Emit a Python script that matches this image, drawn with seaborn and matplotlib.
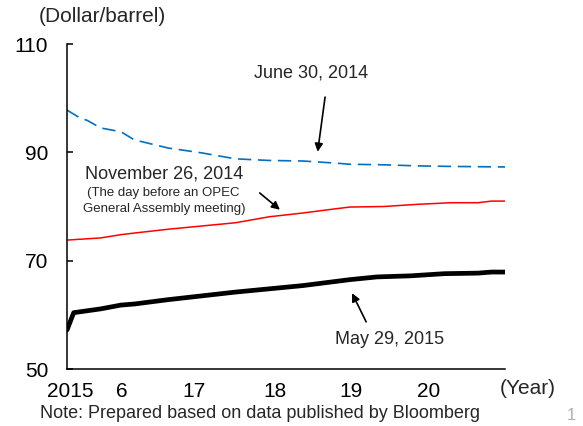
import matplotlib
matplotlib.use("Agg")
import matplotlib.pyplot as plt
import seaborn as sns

# Futures curves (month index 0 = first contract month on the axis)
may2015_x = [0, 1, 5, 8, 10, 15, 20, 25, 30, 35, 42, 46, 51, 56, 61, 63, 65]
may2015_y = [57.2, 60.4, 61.1, 61.8, 62.0, 62.8, 63.5, 64.2, 64.8, 65.4,
             66.5, 67.0, 67.2, 67.6, 67.7, 67.9, 67.9]

nov2014_x = [0, 5, 8, 10, 15, 20, 25, 30, 35, 40, 42, 47, 52, 57, 61, 63, 65]
nov2014_y = [73.8, 74.2, 74.8, 75.1, 75.8, 76.4, 77.0, 78.1, 78.8, 79.6,
             79.9, 80.0, 80.4, 80.7, 80.7, 81.0, 81.0]

jun2014_x = [0, 2, 3, 5, 8, 10, 15, 20, 25, 30, 35, 40, 42, 47, 52, 57, 65]
jun2014_y = [97.8, 96.3, 95.9, 94.5, 93.8, 92.3, 90.8, 89.9, 88.8, 88.5,
             88.4, 88.0, 87.8, 87.7, 87.5, 87.4, 87.3]

x_tick_pos = [0.5, 8.2, 18.8, 30.9, 42.1, 53.7]
x_tick_labels = ["2015", "6", "17", "18", "19", "20"]
y_ticks = [50, 70, 90, 110]

sns.set_style("white")
plt.rcParams["font.family"] = ["Liberation Sans", "DejaVu Sans"]

fig = plt.figure(figsize=(5.83, 4.26), dpi=100)
ax = fig.add_axes([0.1149, 0.1338, 0.7513, 0.7629])

# Curves
sns.lineplot(x=jun2014_x, y=jun2014_y, ax=ax, color="#0070C0", linewidth=1.2,
             linestyle=(0, (8, 4)))
sns.lineplot(x=nov2014_x, y=nov2014_y, ax=ax, color="#FF0000", linewidth=1.1)
sns.lineplot(x=may2015_x, y=may2015_y, ax=ax, color="black", linewidth=3.4,
             solid_capstyle="round")

ax.set_xlim(0, 65)
ax.set_ylim(50, 110)
ax.set_yticks(y_ticks)
ax.set_xticks(x_tick_pos)
ax.set_xticklabels(x_tick_labels)
ax.set_xlabel("")
ax.set_ylabel("")

for side in ["top", "right"]:
    ax.spines[side].set_visible(False)
for side in ["left", "bottom"]:
    ax.spines[side].set_color("black")
    ax.spines[side].set_linewidth(1.1)

ax.tick_params(axis="y", direction="in", length=4, width=1.1, pad=13.5,
               labelsize=15, colors="black", left=True)
ax.tick_params(axis="x", length=0, pad=9, labelsize=15, colors="black")

# Annotations
arrow = dict(arrowstyle="-|>", color="black", lw=1.2, mutation_scale=12,
             shrinkA=0, shrinkB=0)
ax.annotate("", xy=(37.2, 90.1), xytext=(38.3, 100.2), arrowprops=arrow)
ax.text(36.2, 104.6, "June 30, 2014", fontsize=13, ha="center", va="center")

ax.annotate("", xy=(31.6, 79.4), xytext=(28.6, 82.5), arrowprops=arrow)
ax.text(14.4, 86.0, "November 26, 2014", fontsize=13, ha="center", va="center")
ax.text(14.3, 82.5, "(The day before an OPEC", fontsize=9.5, ha="center", va="center")
ax.text(14.4, 79.5, "General Assembly meeting)", fontsize=9.5, ha="center", va="center")

ax.annotate("", xy=(42.3, 64.0), xytext=(44.4, 58.7), arrowprops=arrow)
ax.text(47.9, 55.4, "May 29, 2015", fontsize=13, ha="center", va="center")

fig.text(39 / 583, 1 - 17 / 426, "(Dollar/barrel)", fontsize=15, ha="left", va="center")
fig.text(528 / 583, 1 - 389 / 426, "(Year)", fontsize=15, ha="center", va="center")
fig.text(40 / 583, 1 - 413 / 426, "Note: Prepared based on data published by Bloomberg",
         fontsize=13, ha="left", va="center")
fig.text(567 / 583, 1 - 416 / 426, "1", fontsize=12, color="#b0b0b0", ha="left", va="center")

fig.savefig("out.png", dpi=100)
